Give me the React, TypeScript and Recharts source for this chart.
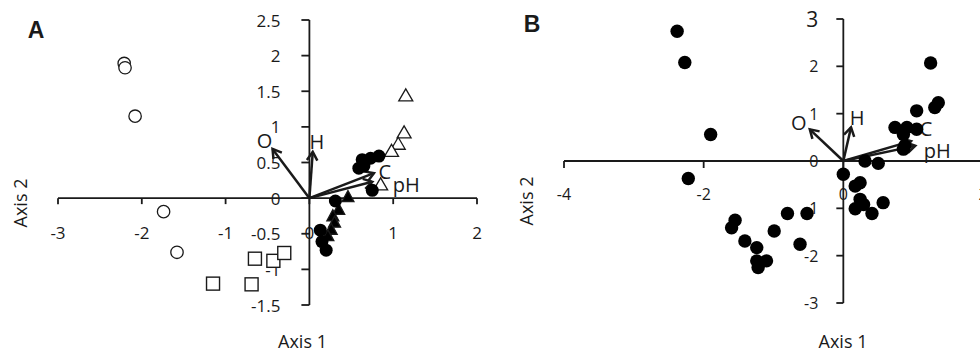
import { ScatterChart, Scatter, XAxis, YAxis, ReferenceLine, ReferenceDot } from 'recharts';

const FONT = '"Open Sans", "Noto Sans", sans-serif';
const INK = '#1a1a1a';

// ---- Panel A data ----
const aXTicks = [-3, -2, -1, 0, 1, 2];
const aYTicks = [2.5, 2, 1.5, 1, 0.5, 0, -0.5, -1, -1.5];

const aOpenCircles = [
  { x: -2.21, y: 1.89 },
  { x: -2.2, y: 1.83 },
  { x: -2.08, y: 1.15 },
  { x: -1.74, y: -0.19 },
  { x: -1.58, y: -0.76 },
];
const aSquares = [
  { x: -1.15, y: -1.2 },
  { x: -0.69, y: -1.21 },
  { x: -0.65, y: -0.85 },
  { x: -0.43, y: -0.88 },
  { x: -0.3, y: -0.77 },
];
const aOpenTriangles = [
  { x: 1.15, y: 1.45 },
  { x: 1.13, y: 0.93 },
  { x: 1.06, y: 0.77 },
  { x: 0.98, y: 0.67 },
  { x: 0.85, y: 0.2 },
];
const aFilledTriangles = [
  { x: 0.46, y: 0.03 },
  { x: 0.35, y: -0.15 },
  { x: 0.28, y: -0.24 },
  { x: 0.3, y: -0.33 },
  { x: 0.26, y: -0.43 },
  { x: 0.22, y: -0.52 },
];
const aFilledCircles = [
  { x: 0.63, y: 0.54 },
  { x: 0.65, y: 0.45 },
  { x: 0.73, y: 0.56 },
  { x: 0.83, y: 0.59 },
  { x: 0.59, y: 0.42 },
  { x: 0.75, y: 0.11 },
  { x: 0.31, y: -0.04 },
  { x: 0.13, y: -0.45 },
  { x: 0.15, y: -0.61 },
  { x: 0.2, y: -0.73 },
];
const aVectors = [
  { name: 'O', x: -0.44, y: 0.69 },
  { name: 'H', x: 0.04, y: 0.65 },
  { name: 'C', x: 0.77, y: 0.35 },
  { name: 'pH', x: 0.75, y: 0.23 },
];

// ---- Panel B data ----
const bXTicks = [-4, -2, 0, 2];
const bYTicks = [3, 2, 1, 0, -1, -2, -3];

const bPoints = [
  { x: -2.38, y: 2.74 },
  { x: -2.27, y: 2.08 },
  { x: -1.9, y: 0.56 },
  { x: -2.22, y: -0.37 },
  { x: -1.55, y: -1.25 },
  { x: -1.6, y: -1.41 },
  { x: -1.41, y: -1.69 },
  { x: -1.24, y: -1.83 },
  { x: -1.24, y: -2.11 },
  { x: -1.22, y: -2.25 },
  { x: -1.1, y: -2.11 },
  { x: -0.99, y: -1.48 },
  { x: -0.8, y: -1.11 },
  { x: -0.52, y: -1.11 },
  { x: -0.62, y: -1.76 },
  { x: 0.0, y: -0.28 },
  { x: 0.24, y: -0.46 },
  { x: 0.17, y: -0.53 },
  { x: 0.31, y: 0.0 },
  { x: 0.5, y: -0.05 },
  { x: 0.24, y: -0.81 },
  { x: 0.29, y: -0.92 },
  { x: 0.17, y: -1.01 },
  { x: 0.41, y: -1.11 },
  { x: 0.57, y: -0.88 },
  { x: 1.25, y: 2.07 },
  { x: 1.36, y: 1.23 },
  { x: 1.31, y: 1.13 },
  { x: 1.05, y: 1.06 },
  { x: 0.74, y: 0.71 },
  { x: 0.91, y: 0.71 },
  { x: 1.05, y: 0.67 },
  { x: 0.86, y: 0.56 },
  { x: 0.88, y: 0.32 },
  { x: 0.86, y: 0.25 },
];
const bVectors = [
  { name: 'O', x: -0.48, y: 0.67 },
  { name: 'H', x: 0.11, y: 0.71 },
  { name: 'C', x: 0.97, y: 0.42 },
  { name: 'pH', x: 1.03, y: 0.32 },
];

// label offsets (px) from arrow tips
const aLabelOffset: Record<string, [number, number]> = {
  O: [-8, -8],
  H: [4, -10],
  C: [11, -2],
  pH: [34, 3],
};
const bLabelOffset: Record<string, [number, number]> = {
  O: [-11, -7],
  H: [6, -10],
  C: [15, -13],
  pH: [22, 5],
};

// ---- marker shapes ----
const openCircle = (p: any) => (
  <circle cx={p.cx} cy={p.cy} r={6.2} fill="#fff" stroke={INK} strokeWidth={1.3} />
);
const filledCircle = (r: number) => (p: any) => <circle cx={p.cx} cy={p.cy} r={r} fill="#000" />;
const openSquare = (p: any) => (
  <rect x={p.cx - 6.5} y={p.cy - 6.5} width={13} height={13} fill="#fff" stroke={INK} strokeWidth={1.4} />
);
const triangle = (w: number, h: number, filled: boolean) => (p: any) => (
  <polygon
    points={`${p.cx},${p.cy - h / 2} ${p.cx + w / 2},${p.cy + h / 2} ${p.cx - w / 2},${p.cy + h / 2}`}
    fill={filled ? '#000' : '#fff'}
    stroke={INK}
    strokeWidth={1.3}
    strokeLinejoin="miter"
  />
);

// ---- axis pieces ----
const xTick = (label: string, len: number, gap: number, fontSize: number) => (p: any) => (
  <g>
    <line x1={p.cx} y1={p.cy} x2={p.cx} y2={p.cy + len} stroke={INK} strokeWidth={1.8} />
    <text
      x={p.cx}
      y={p.cy + gap}
      textAnchor="middle"
      dominantBaseline="central"
      fontFamily={FONT}
      fontSize={fontSize}
      fill={INK}
    >
      {label}
    </text>
  </g>
);
const yTick = (label: string, len: number, gap: number, fontSize: number) => (p: any) => (
  <g>
    <line x1={p.cx} y1={p.cy} x2={p.cx - len} y2={p.cy} stroke={INK} strokeWidth={1.8} />
    <text
      x={p.cx - gap}
      y={p.cy}
      textAnchor="end"
      dominantBaseline="central"
      fontFamily={FONT}
      fontSize={fontSize}
      fill={INK}
    >
      {label}
    </text>
  </g>
);

const arrow = (label: string, offset: [number, number]) => (p: any) => {
  const { x1, y1, x2, y2 } = p;
  const ang = Math.atan2(y2 - y1, x2 - x1);
  const L = 10;
  const s = 0.55;
  const h1x = x2 - L * Math.cos(ang - s);
  const h1y = y2 - L * Math.sin(ang - s);
  const h2x = x2 - L * Math.cos(ang + s);
  const h2y = y2 - L * Math.sin(ang + s);
  return (
    <g>
      <line x1={x1} y1={y1} x2={x2} y2={y2} stroke={INK} strokeWidth={2.5} />
      <polyline
        points={`${h1x},${h1y} ${x2},${y2} ${h2x},${h2y}`}
        fill="none"
        stroke={INK}
        strokeWidth={2.5}
      />
      <text
        x={x2 + offset[0]}
        y={y2 + offset[1]}
        textAnchor="middle"
        dominantBaseline="central"
        fontFamily={FONT}
        fontSize={20}
        fill={INK}
      >
        {label}
      </text>
    </g>
  );
};

const Label = ({ x, y, children, size = 18, bold = false, rotate = false }: any) => (
  <div
    style={{
      position: 'absolute',
      left: x,
      top: y,
      transform: `translate(-50%, -50%)${rotate ? ' rotate(-90deg)' : ''}`,
      fontFamily: bold ? '"Liberation Sans", Arial, sans-serif' : FONT,
      fontWeight: bold ? 700 : 400,
      fontSize: size,
      color: INK,
      whiteSpace: 'nowrap',
      lineHeight: 1.2,
    }}
  >
    {children}
  </div>
);

function PanelA() {
  return (
    <ScatterChart width={490} height={353} margin={{ top: 20, right: 13, bottom: 48, left: 58 }}>
      <XAxis type="number" dataKey="x" domain={[-3, 2]} ticks={aXTicks} allowDataOverflow hide />
      <YAxis type="number" dataKey="y" domain={[-1.5, 2.5]} ticks={aYTicks} allowDataOverflow hide />
      <ReferenceLine y={0} stroke={INK} strokeWidth={1.8} />
      <ReferenceLine x={0} stroke={INK} strokeWidth={1.8} />
      {aXTicks.map((t) => (
        <ReferenceDot key={'ax' + t} x={t} y={0} r={0} ifOverflow="visible" shape={xTick(String(t), 6, 34, 17)} />
      ))}
      {aYTicks.map((t) => (
        <ReferenceDot key={'ay' + t} x={0} y={t} r={0} ifOverflow="visible" shape={yTick(String(t), 8, 29, 17)} />
      ))}
      <Scatter data={aOpenCircles} shape={openCircle} isAnimationActive={false} />
      <Scatter data={aSquares} shape={openSquare} isAnimationActive={false} />
      <Scatter data={aOpenTriangles} shape={triangle(14, 12, false)} isAnimationActive={false} />
      <Scatter data={aFilledTriangles} shape={triangle(12, 11, true)} isAnimationActive={false} />
      <Scatter data={aFilledCircles} shape={filledCircle(6.5)} isAnimationActive={false} />
      {aVectors.map((v) => (
        <ReferenceLine
          key={'av' + v.name}
          segment={[{ x: 0, y: 0 }, { x: v.x, y: v.y }]}
          ifOverflow="visible"
          shape={arrow(v.name, aLabelOffset[v.name])}
        />
      ))}
    </ScatterChart>
  );
}

function PanelB() {
  return (
    <ScatterChart width={500} height={353} margin={{ top: 19, right: 7, bottom: 50, left: 74 }}>
      <XAxis type="number" dataKey="x" domain={[-4, 2]} ticks={bXTicks} allowDataOverflow hide />
      <YAxis type="number" dataKey="y" domain={[-3, 3]} ticks={bYTicks} allowDataOverflow hide />
      <ReferenceLine y={0} stroke={INK} strokeWidth={1.8} />
      <ReferenceLine x={0} stroke={INK} strokeWidth={1.8} />
      {bXTicks.map((t) => (
        <ReferenceDot key={'bx' + t} x={t} y={0} r={0} ifOverflow="visible" shape={xTick(String(t), 7, 33, 16)} />
      ))}
      {bYTicks.map((t) => (
        <ReferenceDot
          key={'by' + t}
          x={0}
          y={t}
          r={0}
          ifOverflow="visible"
          shape={yTick(String(t), 7, 25, t === 3 ? 21 : 16)}
        />
      ))}
      <Scatter data={bPoints} shape={filledCircle(6.7)} isAnimationActive={false} />
      {bVectors.map((v) => (
        <ReferenceLine
          key={'bv' + v.name}
          segment={[{ x: 0, y: 0 }, { x: v.x, y: v.y }]}
          ifOverflow="visible"
          shape={arrow(v.name, bLabelOffset[v.name])}
        />
      ))}
    </ScatterChart>
  );
}

export default function App() {
  return (
    <div
      style={{
        position: 'absolute',
        left: 0,
        top: 0,
        width: 980,
        height: 353,
        overflow: 'hidden',
        background: '#fff',
      }}
    >
      <div style={{ position: 'absolute', left: 0, top: 0 }}>
        <PanelA />
      </div>
      <div style={{ position: 'absolute', left: 490, top: 0 }}>
        <PanelB />
      </div>
      <Label x={36} y={31} size={23} bold>
        A
      </Label>
      <Label x={532} y={25} size={23} bold>
        B
      </Label>
      <Label x={20.5} y={203} rotate>
        Axis 2
      </Label>
      <Label x={526.5} y={201} rotate>
        Axis 2
      </Label>
      <Label x={302.5} y={342}>
        Axis 1
      </Label>
      <Label x={843} y={342}>
        Axis 1
      </Label>
    </div>
  );
}
